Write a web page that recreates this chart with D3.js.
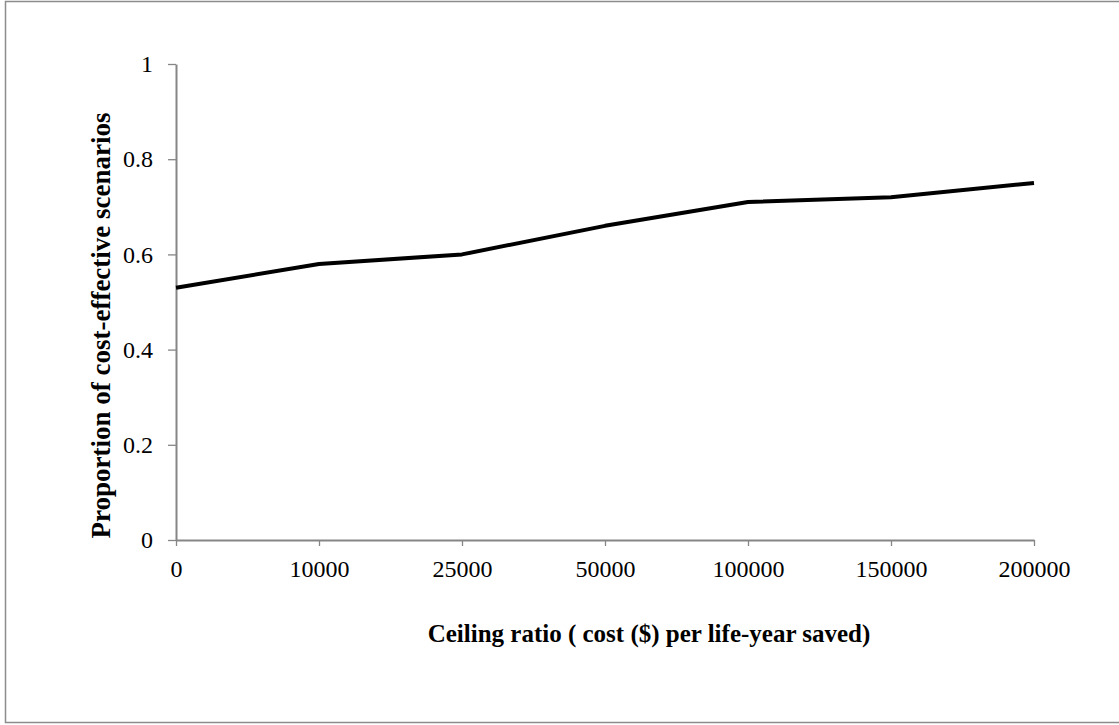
<!DOCTYPE html>
<html><head><meta charset="utf-8">
<script src="https://cdn.jsdelivr.net/npm/d3@7"></script>
<style>body{margin:0;background:#fff}svg{display:block}</style>
</head><body>
<script>
const categories = ["0","10000","25000","50000","100000","150000","200000"];
const values = [0.53, 0.58, 0.60, 0.66, 0.71, 0.72, 0.75];
const yTicks = [0, 0.2, 0.4, 0.6, 0.8, 1];
const xTitle = "Ceiling ratio ( cost ($) per life-year saved)";
const yTitle = "Proportion of cost-effective scenarios";

(function(){
const W = 1119, H = 725;
const svg = d3.select("body").append("svg").attr("width", W).attr("height", H);
svg.append("rect").attr("x",5.5).attr("y",1.5).attr("width",1125).attr("height",721)
  .attr("fill","none").attr("stroke","#8c8c8c").attr("stroke-width",1.5);

const mL = 176, mR = 1034, mT = 64, mB = 540;
const x = d3.scalePoint().domain(categories).range([mL, mR]);
const y = d3.scaleLinear().domain([0,1]).range([mB, mT]);
const font = "'Liberation Serif','Times New Roman',serif";

const gx = svg.append("g").attr("transform",`translate(0,${mB})`)
  .call(d3.axisBottom(x).tickSize(6).tickPadding(14).tickSizeOuter(0));
const gy = svg.append("g").attr("transform",`translate(${mL},0)`)
  .call(d3.axisLeft(y).tickValues(yTicks).tickFormat(d3.format("")).tickSize(8).tickPadding(15).tickSizeOuter(0));
[gx, gy].forEach(g => {
  g.select(".domain").attr("stroke","#868686").attr("stroke-width",2);
  g.selectAll(".tick line").attr("stroke","#868686").attr("stroke-width",1.3);
  g.selectAll("text").attr("font-family",font).attr("font-size",24).attr("fill","#000");
});

const line = d3.line().x((d,i)=>x(categories[i])).y(d=>y(d));
svg.append("path").datum(values).attr("d",line).attr("fill","none")
  .attr("stroke","#000").attr("stroke-width",4).attr("stroke-linejoin","round");

svg.append("text").attr("x",649).attr("y",642).attr("text-anchor","middle")
  .attr("font-family",font).attr("font-weight","bold").attr("font-size",25).text(xTitle);
svg.append("text").attr("transform",`translate(110,325.5) rotate(-90)`)
  .attr("text-anchor","middle").attr("font-family",font).attr("font-weight","bold")
  .attr("font-size",27).text(yTitle);
})();
</script>
</body></html>
